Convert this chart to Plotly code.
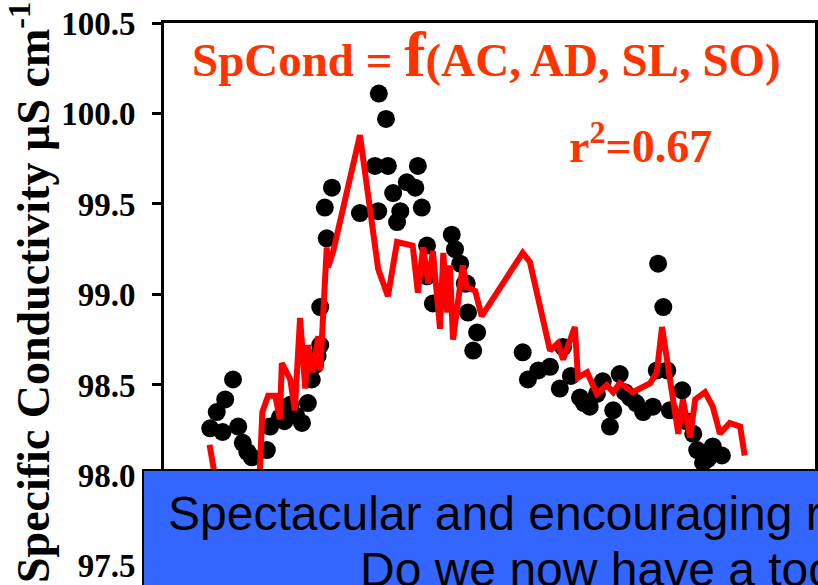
import plotly.graph_objects as go

# Observed specific conductivity (sample position, value in uS/cm)
obs_x = [7.1, 8.1, 9.4, 10.6, 11.4, 12.1, 13.5, 15.8, 16.3, 17.8, 19.4, 21.2, 22.1, 22.7,
         23.2, 24.0, 24.0, 24.7, 25.0, 25.8, 30.1, 32.4, 32.9, 33.0, 34.1, 34.4, 35.2, 35.8,
         36.3, 37.3, 38.6, 39.0, 39.6, 40.4, 40.4, 41.3, 44.2, 44.7, 45.5, 46.2, 46.5, 46.7,
         47.5, 48.1, 55.1, 55.9, 59.3, 60.8, 61.3, 62.5, 63.9, 65.4, 66.5, 67.4, 68.5, 69.0,
         70.0, 71.6, 72.5, 73.6, 75.1, 75.7, 75.9, 76.7, 77.3, 77.7, 79.6, 81.3, 81.9, 82.8,
         84.3, 85.7, 83.5, 9.0, 12.8, 18.5, 20.3, 23.6, 57.5, 64.5, 70.8, 80.2]
obs_y = [98.26, 98.35, 98.42, 98.53, 98.27, 98.18, 98.10, 98.14, 98.27, 98.32, 98.39, 98.29,
         98.40, 98.53, 98.61, 98.72, 98.93, 99.48, 99.31, 99.59, 99.45, 99.71, 99.46, 100.11,
         99.97, 99.71, 99.56, 99.40, 99.46, 99.62, 99.59, 99.71, 99.48, 99.27, 99.10, 98.95,
         99.33, 99.25, 99.17, 99.06, 99.06, 98.90, 98.69, 98.79, 98.68, 98.53, 98.60, 98.48,
         98.71, 98.55, 98.43, 98.38, 98.45, 98.52, 98.27, 98.36, 98.56, 98.43, 98.40, 98.35,
         98.38, 98.58, 99.17, 98.93, 98.58, 98.36, 98.47, 98.23, 98.14, 98.07, 98.16, 98.11,
         98.09, 98.24, 98.13, 98.30, 98.33, 98.66, 98.58, 98.40, 98.46, 98.30]

# Model prediction SpCond = f(AC, AD, SL, SO)
mod_x = [7.0, 7.8, 8.5, 9.5, 10.5, 11.4, 12.4, 14.7, 15.1, 16.0, 17.1, 17.8, 18.1, 19.4,
         20.1, 20.9, 21.7, 22.1, 22.9, 23.7, 24.0, 25.0, 25.2, 26.0, 30.1, 32.9, 34.4, 35.8,
         38.2, 39.0, 39.8, 40.6, 41.3, 42.4, 42.9, 43.5, 43.9, 44.4, 45.9, 46.5, 47.8, 48.8,
         55.1, 56.2, 59.3, 60.5, 61.3, 63.1, 63.6, 65.0, 66.5, 68.0, 69.0, 70.0, 72.0, 74.7,
         75.7, 76.5, 77.3, 78.0, 79.0, 79.7, 80.8, 81.6, 83.1, 84.3, 85.4, 86.9, 88.5, 89.2]
mod_y = [98.17, 97.98, 97.85, 97.90, 98.02, 97.95, 97.90, 98.00, 98.35, 98.44, 98.44, 98.31,
         98.62, 98.53, 98.36, 98.87, 98.48, 98.72, 98.57, 98.77, 98.58, 99.26, 99.15, 99.24,
         99.88, 99.14, 98.99, 99.29, 99.27, 99.01, 99.26, 99.06, 99.24, 98.81, 99.23, 98.90,
         99.16, 98.75, 99.16, 99.04, 99.02, 98.88, 99.23, 99.18, 98.69, 98.73, 98.64, 98.82,
         98.54, 98.57, 98.45, 98.50, 98.46, 98.51, 98.46, 98.51, 98.57, 98.82, 98.62, 98.49,
         98.23, 98.42, 98.21, 98.42, 98.46, 98.38, 98.23, 98.29, 98.27, 98.11]

y_ticks = [97.5, 98.0, 98.5, 99.0, 99.5, 100.0, 100.5]
y_tick_labels = ["97.5", "98.0", "98.5", "99.0", "99.5", "100.0", "100.5"]

W, H = 818, 585
ML, MR, MT, MB = 164, 3, 23, 1
PW, PH = W - ML - MR, H - MT - MB


def px_x(px):
    return (px - ML) / PW


def px_y(py):
    return (H - MB - py) / PH


fig = go.Figure()
fig.add_trace(go.Scatter(x=obs_x, y=obs_y, mode="markers",
                         marker=dict(color="black", size=18, line=dict(width=0)),
                         showlegend=False))
fig.add_trace(go.Scatter(x=mod_x, y=mod_y, mode="lines",
                         line=dict(color="#ff0000", width=6),
                         showlegend=False))

serif = "Liberation Serif, Times New Roman, serif"
orange = "#ff3300"

fig.update_layout(
    width=W, height=H,
    margin=dict(l=ML, r=MR, t=MT, b=MB, pad=0),
    paper_bgcolor="white", plot_bgcolor="white",
    xaxis=dict(range=[0, 100], showgrid=False, zeroline=False, showticklabels=False,
               ticks="", showline=True, mirror=True, linecolor="black", linewidth=3),
    yaxis=dict(range=[97.4, 100.5], tickvals=y_ticks, ticktext=y_tick_labels,
               showgrid=False, zeroline=False, showline=True, mirror=True,
               linecolor="black", linewidth=3, ticks="outside", ticklen=9,
               tickwidth=3, tickcolor="black", ticklabelstandoff=10,
               tickfont=dict(family=serif, size=33, color="black", weight="bold")),
    font=dict(family=serif, size=20),
)

fig.add_annotation(
    xref="paper", yref="paper", x=px_x(486), y=px_y(54), xanchor="center", yanchor="middle",
    text="SpCond = <span style='font-size:64px'>f</span>(AC, AD, SL, SO)",
    showarrow=False, font=dict(family=serif, size=47, color=orange, weight="bold"))

fig.add_annotation(
    xref="paper", yref="paper", x=px_x(640), y=px_y(143), xanchor="center", yanchor="middle",
    text="r<sup>2</sup>=0.67", showarrow=False,
    font=dict(family=serif, size=46, color=orange, weight="bold"))

fig.add_annotation(
    xref="paper", yref="paper", x=px_x(30), y=px_y(293), xanchor="center", yanchor="middle",
    text="Specific Conductivity µS cm<sup>-1</sup>", textangle=-90, showarrow=False,
    font=dict(family=serif, size=46, color="black", weight="bold"))

fig.add_shape(type="rect", xref="paper", yref="paper",
              x0=px_x(143), x1=px_x(1200), y0=px_y(800), y1=px_y(470),
              fillcolor="#3366ff", line=dict(color="black", width=2), layer="above")

sans = "Liberation Sans, Arial, sans-serif"
fig.add_annotation(
    xref="paper", yref="paper", x=px_x(166), y=px_y(513), xanchor="left", yanchor="middle",
    text="Spectacular and encouraging results!", showarrow=False,
    font=dict(family=sans, size=48, color="black"))
fig.add_annotation(
    xref="paper", yref="paper", x=px_x(358), y=px_y(569), xanchor="left", yanchor="middle",
    text="Do we now have a tool?", showarrow=False,
    font=dict(family=sans, size=48, color="black"))

fig.write_html("out.html")
